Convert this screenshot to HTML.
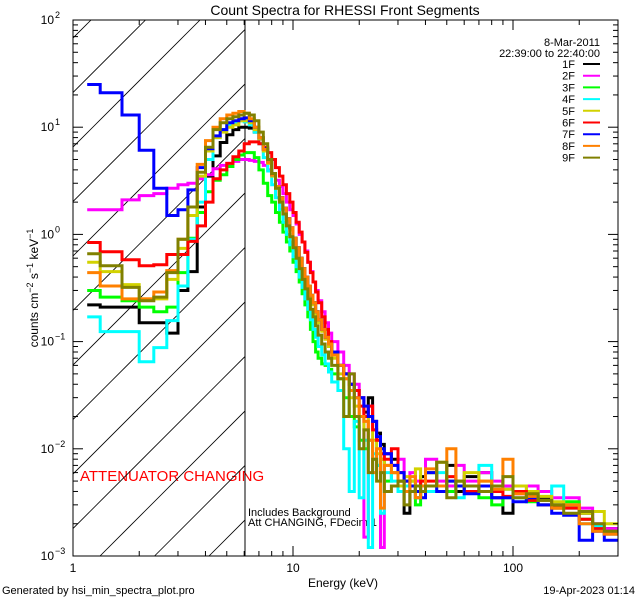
<!DOCTYPE html>
<html><head><meta charset="utf-8"><style>
html,body{margin:0;padding:0;background:#fff;}
svg{display:block;font-family:"Liberation Sans",sans-serif;}
</style></head><body>
<svg id="chart" width="640" height="600" viewBox="0 0 640 600">
<rect width="640" height="600" fill="#fff"/>
<text x="345" y="15" font-size="14" text-anchor="middle">Count Spectra for RHESSI Front Segments</text>
<text x="600" y="46" font-size="11" text-anchor="end">8-Mar-2011</text>
<text x="600" y="57" font-size="11" text-anchor="end">22:39:00 to 22:40:00</text>
<text x="80" y="481" font-size="15" fill="#ff0000">ATTENUATOR CHANGING</text>
<text x="248" y="516" font-size="11">Includes Background</text>
<text x="248" y="526" font-size="11">Att CHANGING, FDecim 1</text>
<text x="343" y="587" font-size="12" text-anchor="middle">Energy (keV)</text>
<text x="2" y="594" font-size="11">Generated by hsi_min_spectra_plot.pro</text>
<text x="635" y="594" font-size="11" text-anchor="end">19-Apr-2023 01:14</text>
<text transform="translate(38,288) rotate(-90)" font-size="12" text-anchor="middle">counts cm<tspan dy="-5" font-size="9">−2</tspan><tspan dy="5"> s</tspan><tspan dy="-5" font-size="9">−1</tspan><tspan dy="5"> keV</tspan><tspan dy="-5" font-size="9">−1</tspan></text>
<defs><clipPath id="pc"><rect x="73" y="20" width="545" height="536"/></clipPath><clipPath id="hc"><rect x="73" y="20" width="172" height="536"/></clipPath></defs>
<g id="hatch" clip-path="url(#hc)"></g>
<line x1="245" y1="20" x2="245" y2="556" stroke="#000" stroke-width="1"/>
<g id="series" clip-path="url(#pc)"></g>
<g id="axes"></g>
<g id="legend"></g>
</svg>
<script>
const edgesLow = [1.16,1.33,1.67,2,2.33,2.67,3,3.33,3.67,4,4.33,4.67,5,5.33,5.67,6,6.33,6.67,7,7.33,7.67,8,8.33,8.67,9,9.33,9.67,10,10.33,10.67,11,11.33,11.67,12,12.33,12.67,13,13.5,14,14.5,15];
const edgesHigh = [16,17,18,19,20,21,22,23,24,25,26,28,30,32,34,36,38,40,45,50,55,60,70,80,90,100,115,130,150,170,200,230,260,300];
const seriesNames = ["1F","2F","3F","4F","5F","6F","7F","8F","9F"];
const seriesColors = ["#000000","#ff00ff","#00ff00","#00ffff","#d2d200","#ff0000","#0000ff","#ff8000","#808000"];
const s1F = [0.22,0.21,0.21,0.15,0.15,0.12,0.3,0.45,1.8,3.5,5.4,7.2,8.5,9.5,10,10,9.8,9,7.8,6.2,4.8,3.6,2.8,2.2,1.75,1.4,1.15,0.92,0.75,0.6,0.48,0.4,0.33,0.27,0.23,0.19,0.16,0.13,0.11,0.095,
 0.08,0.06,0.05,0.04,0.035,0.03,0.022,0.03,0.018,0.014,0.011,0.009,0.008,0.005,0.0025,0.004,0.0035,0.0055,
 0.006,0.0045,0.007,0.004,0.0055,0.006,0.0035,0.0025,0.004,0.004,0.0035,0.003,0.003,0.0025,0.0018,0.0018];
const s2F = [1.7,1.7,2.1,2.3,2.4,2.7,2.9,3.0,3.3,3.6,4.1,4.4,4.6,4.8,5.0,5.0,4.9,4.8,4.7,4.4,4.0,3.6,3.2,2.8,2.4,2.0,1.7,1.5,1.25,1.0,0.85,0.7,0.55,0.45,0.36,0.3,0.24,0.19,0.15,0.12,
 0.1,0.08,0.06,0.05,0.04,0.03,0.0015,0.025,0.015,0.012,0.0012,0.009,0.007,0.008,0.0045,0.006,0.005,0.004,
 0.008,0.005,0.0045,0.007,0.005,0.006,0.005,0.0045,0.0038,0.0045,0.004,0.0035,0.0035,0.0028,0.002,0.0018];
const s3F = [0.3,0.26,0.24,0.21,0.19,0.21,0.44,0.92,1.6,2.5,3.2,3.6,4.3,5.0,5.5,5.8,5.8,5.2,4.0,3.0,2.3,2.0,1.6,1.3,1.05,0.85,0.7,0.55,0.45,0.36,0.28,0.22,0.17,0.13,0.1,0.08,0.07,0.062,0.06,0.055,
 0.05,0.045,0.03,0.02,0.016,0.012,0.01,0.012,0.008,0.007,0.008,0.005,0.006,0.004,0.0045,0.005,0.003,0.004,
 0.006,0.0045,0.004,0.005,0.004,0.0035,0.003,0.0035,0.004,0.0032,0.003,0.0028,0.0032,0.0022,0.0019,0.0017];
const s4F = [0.17,0.124,0.124,0.065,0.088,0.157,0.33,0.9,2.0,5.0,8.0,9.5,10.5,11,11.5,11.2,10.5,9,7,5.2,3.9,2.9,2.2,1.7,1.3,1.0,0.8,0.62,0.5,0.4,0.32,0.25,0.2,0.16,0.13,0.11,0.09,0.075,0.062,0.052,
 0.042,0.035,0.01,0.004,0.018,0.0035,0.012,0.0012,0.009,0.007,0.0025,0.006,0.005,0.004,0.0045,0.004,0.0035,0.005,
 0.004,0.006,0.005,0.0035,0.0045,0.007,0.004,0.0042,0.0035,0.004,0.0033,0.0045,0.0028,0.002,0.0019,0.0016];
const s5F = [0.55,0.45,0.34,0.25,0.25,0.38,0.74,1.5,3.5,6,8,9,10,10.5,11.5,11.5,11,9.5,7.8,6,4.6,3.5,2.7,2.1,1.7,1.35,1.1,0.9,0.72,0.58,0.47,0.39,0.32,0.26,0.22,0.18,0.15,0.125,0.105,0.09,
 0.07,0.05,0.045,0.03,0.025,0.02,0.015,0.02,0.012,0.009,0.008,0.007,0.006,0.0045,0.0055,0.005,0.0065,0.005,
 0.006,0.0075,0.005,0.0045,0.006,0.005,0.0045,0.0042,0.0045,0.004,0.0036,0.0032,0.003,0.0025,0.0026,0.002];
const s6F = [0.84,0.69,0.58,0.51,0.52,0.65,0.65,0.86,1.2,2.0,3.3,4.0,4.6,5.3,6.0,7.0,7.3,7.3,7.0,6.5,5.8,5.0,4.2,3.5,2.9,2.4,2.0,1.6,1.3,1.05,0.85,0.68,0.55,0.44,0.36,0.29,0.23,0.17,0.13,0.1,
 0.08,0.06,0.05,0.04,0.035,0.025,0.02,0.025,0.015,0.012,0.009,0.008,0.01,0.006,0.005,0.004,0.0045,0.005,
 0.005,0.0045,0.0055,0.0045,0.004,0.0045,0.004,0.0036,0.004,0.0033,0.003,0.0028,0.0028,0.0022,0.0018,0.0016];
const s7F = [25,21,13,6.1,2.7,1.5,1.7,2.6,4.2,6.3,8.3,9.5,11,11.5,12,12.2,11.5,10,8,6.3,4.8,3.6,2.8,2.2,1.75,1.4,1.15,0.92,0.75,0.6,0.48,0.4,0.33,0.27,0.23,0.19,0.16,0.13,0.11,0.095,
 0.08,0.06,0.05,0.04,0.03,0.03,0.025,0.02,0.018,0.013,0.01,0.009,0.007,0.006,0.005,0.0045,0.004,0.0035,
 0.006,0.004,0.005,0.0045,0.0038,0.0045,0.0035,0.0035,0.0032,0.0035,0.003,0.0025,0.0024,0.0014,0.0017,0.0014];
const s8F = [0.44,0.33,0.25,0.25,0.29,0.46,0.9,1.8,4.5,7.5,10,12,13,13.5,14,13.5,12,10,8,6.2,4.7,3.6,2.8,2.2,1.75,1.4,1.15,0.92,0.75,0.6,0.48,0.4,0.33,0.27,0.23,0.19,0.16,0.13,0.11,0.095,
 0.075,0.06,0.045,0.035,0.03,0.02,0.018,0.012,0.006,0.01,0.0028,0.007,0.006,0.005,0.004,0.0055,0.0035,0.0045,
 0.0065,0.0045,0.01,0.005,0.0045,0.005,0.0042,0.008,0.0038,0.0036,0.0033,0.0028,0.003,0.002,0.0017,0.0016];
const s9F = [0.66,0.51,0.32,0.24,0.26,0.44,0.9,1.8,3.8,6.5,9.5,11,12,12.5,13,13.5,13,11.5,9,7,5,3.7,2.7,2.0,1.55,1.2,0.95,0.75,0.6,0.48,0.38,0.31,0.25,0.2,0.17,0.14,0.115,0.095,0.08,0.07,
 0.06,0.045,0.02,0.05,0.02,0.01,0.015,0.006,0.008,0.005,0.006,0.004,0.0045,0.005,0.003,0.004,0.0045,0.004,
 0.0045,0.0075,0.0035,0.005,0.0045,0.004,0.0045,0.0055,0.0035,0.0038,0.0033,0.003,0.0025,0.0026,0.002,0.0017];
const seriesValues = [s1F,s2F,s3F,s4F,s5F,s6F,s7F,s8F,s9F];
const xTickLabels = ["1","10","100"];
const yTickLabels = ["-3","-2","-1","0","1","2"];

const NS = "http://www.w3.org/2000/svg";
const L = 73, R = 618, T = 20, B = 556;
const XDEC = 220, YDEC = 107.2;
function xs(e){ return L + XDEC*Math.log10(e); }
function ys(v){ return B - YDEC*(Math.log10(Math.max(v,1e-4)) + 3); }
function mk(tag, attrs, parent){ const el=document.createElementNS(NS,tag); for(const k in attrs) el.setAttribute(k,attrs[k]); parent.appendChild(el); return el; }
const edges = edgesLow.concat(edgesHigh);

const hatch = document.getElementById('hatch');
for (let k=-14;k<6;k++){
  const x0 = 100 + 54.5*k;
  const ln = mk('line',{x1:x0,y1:B,x2:x0+600,y2:B-600,stroke:'#000','stroke-width':0.8},hatch);
  
  
}

const sg = document.getElementById('series');
seriesValues.forEach((vals,si)=>{
  let d = '';
  for (let i=0;i<vals.length;i++){
    const x1 = xs(edges[i]), x2 = xs(edges[i+1]), y = ys(vals[i]);
    d += (i===0 ? 'M'+x1.toFixed(1)+','+y.toFixed(1) : 'L'+x1.toFixed(1)+','+y.toFixed(1)) + 'L'+x2.toFixed(1)+','+y.toFixed(1);
  }
  const p = mk('path',{d:d,fill:'none',stroke:seriesColors[si],'stroke-width':3,'stroke-linejoin':'miter'},sg);
  
  
});

const ax = document.getElementById('axes');
const frame = mk('rect',{x:L,y:T,width:R-L,height:B-T,fill:'none',stroke:'#000','stroke-width':1},ax);


for (let dec=0; dec<3; dec++){
  for (let m=1;m<10;m++){
    const e = Math.pow(10,dec)*m; if (e>300) break;
    const x = xs(e), len = m===1?10:5;
    const t1 = mk('line',{x1:x,y1:B,x2:x,y2:B-len,stroke:'#000'},ax);
    
    
    const t2 = mk('line',{x1:x,y1:T,x2:x,y2:T+len,stroke:'#000'},ax);
    
    
  }
}
xTickLabels.forEach((lab,i)=>{
  const t = mk('text',{x:xs(Math.pow(10,i)),y:572,'font-size':12,'text-anchor':'middle'},ax);
  t.textContent = lab;
  
  
});
for (let dec=-3; dec<2; dec++){
  for (let m=1;m<10;m++){
    const v = Math.pow(10,dec)*m, y = ys(v), len = m===1?10:5;
    const t1 = mk('line',{x1:L,y1:y,x2:L+len,y2:y,stroke:'#000'},ax);
    
    
    const t2 = mk('line',{x1:R,y1:y,x2:R-len,y2:y,stroke:'#000'},ax);
    
    
  }
}
yTickLabels.forEach((lab)=>{
  const y = ys(Math.pow(10,parseInt(lab)));
  const t = mk('text',{x:54,y:y+4,'font-size':12,'text-anchor':'end'},ax);
  t.textContent = '10';
  
  
  const s = mk('text',{x:55,y:y-2,'font-size':9},ax);
  s.textContent = lab.replace('-','−');
  
  
});

const lg = document.getElementById('legend');
seriesNames.forEach((n,i)=>{
  const y = 64 + 11.7*i;
  const t = mk('text',{x:575,y:y+4,'font-size':11,'text-anchor':'end'},lg);
  t.textContent = n;
  
  
  const l = mk('line',{x1:583,y1:y,x2:600,y2:y,stroke:seriesColors[i],'stroke-width':2},lg);
  
  
});
</script>
</body></html>
